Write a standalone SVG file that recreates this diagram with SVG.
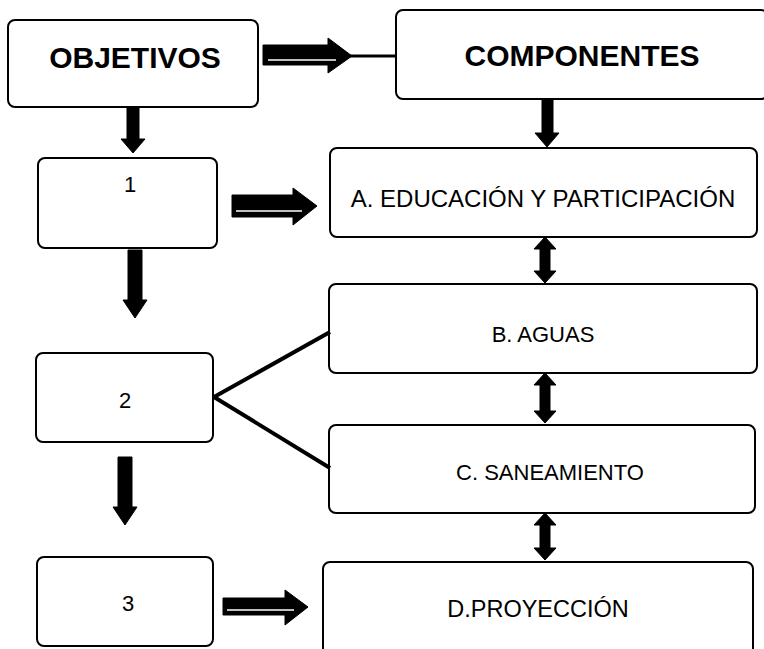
<svg xmlns="http://www.w3.org/2000/svg" width="764" height="649" viewBox="0 0 764 649">
<style>
.box{fill:#fff;stroke:#000;stroke-width:2}
.t{font-family:"Liberation Sans",Arial,sans-serif;fill:#000;text-anchor:middle}
.b{font-weight:bold;font-size:30px}
.n{font-size:22px}
.arr{fill:#000;stroke:#000;stroke-width:1}
.hl{stroke:#fff;stroke-width:1.5;fill:none}
.ln{stroke:#000;stroke-width:4;fill:none}
</style>
<rect width="764" height="649" fill="#fff"/>
<g id="objetivos"><rect class="box" x="8" y="20" width="250" height="87" rx="7"/><text class="t b" x="135" y="68">OBJETIVOS</text></g>
<g id="componentes"><rect class="box" x="396" y="10" width="372" height="89" rx="7"/><text class="t b" x="582" y="66">COMPONENTES</text></g>
<g id="obj1"><rect class="box" x="38" y="158" width="179" height="90" rx="7"/><text class="t n" x="130" y="192">1</text></g>
<g id="obj2"><rect class="box" x="36" y="353" width="177" height="89" rx="7"/><text class="t n" x="125" y="408">2</text></g>
<g id="obj3"><rect class="box" x="37" y="557" width="176" height="89" rx="7"/><text class="t n" x="128" y="611">3</text></g>
<g id="compA"><rect class="box" x="330" y="148" width="427" height="89" rx="7"/><text class="t" x="543" y="207" font-size="24">A. EDUCACIÓN Y PARTICIPACIÓN</text></g>
<g id="compB"><rect class="box" x="329" y="284" width="428" height="89" rx="7"/><text class="t" x="543" y="342" font-size="22">B. AGUAS</text></g>
<g id="compC"><rect class="box" x="329" y="425" width="426" height="88" rx="7"/><text class="t" x="550" y="480" font-size="22">C. SANEAMIENTO</text></g>
<g id="compD"><rect class="box" x="323" y="562" width="430" height="100" rx="7"/><text class="t" x="538" y="617" font-size="23.5">D.PROYECCIÓN</text></g>
<g id="connectors">
<polygon class="arr" points="263,45 328,45 328,38 352,56 328,73 328,65 263,65"/>
<line class="hl" x1="268" y1="60" x2="336" y2="60"/>
<line x1="350" y1="56" x2="397" y2="56" stroke="#000" stroke-width="3"/>
<polygon class="arr" points="127,107 139,107 139,139 145,139 133,153 121,139 127,139"/>
<polygon class="arr" points="542,99 553,99 553,133 559,133 547,147 535,133 542,133"/>
<polygon class="arr" points="232,195 293,195 293,188 317,206 293,225 293,217 232,217"/>
<line class="hl" x1="236" y1="211" x2="302" y2="211"/>
<polygon class="arr" points="128,250 142,250 142,300 147,300 135,318 123,300 128,300"/>
<polygon class="arr" points="118,457 132,457 132,507 137,507 125,525 113,507 118,507"/>
<polygon class="arr" points="223,598 285,598 285,590 308,607 285,625 285,615 223,615"/>
<line class="hl" x1="227" y1="610" x2="294" y2="610"/>
<polygon class="arr" points="545,237 556,249 550,249 550,271 556,271 545,283 534,271 540,271 540,249 534,249"/>
<polygon class="arr" points="545,373 556,385 550,385 550,411 556,411 545,423 534,411 540,411 540,385 534,385"/>
<polygon class="arr" points="545,513 556,525 550,525 550,548 556,548 545,560 534,548 540,548 540,525 534,525"/>
<line class="ln" x1="214" y1="397" x2="330" y2="332"/>
<line class="ln" x1="214" y1="397" x2="330" y2="468"/>
</g>
</svg>
